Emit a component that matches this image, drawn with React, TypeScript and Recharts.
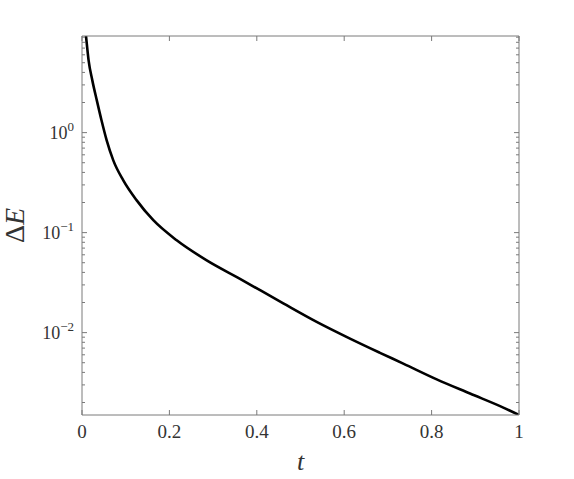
import React from "react";
import { LineChart, Line, XAxis, YAxis } from "recharts";

const tValues = [
  0.0035, 0.00915, 0.0151, 0.0236, 0.0339, 0.0446, 0.0565, 0.0716, 0.0945, 0.1252,
  0.1632, 0.2167, 0.2854, 0.3616, 0.4606, 0.537, 0.6133, 0.6819, 0.7352, 0.8117,
  0.8879, 0.9641, 1.0,
];
const deltaE = [
  16, 9.25, 5.28, 3.33, 2.1, 1.33, 0.837, 0.528, 0.333, 0.21,
  0.133, 0.0838, 0.0528, 0.0345, 0.0196, 0.0128, 0.00871, 0.00628, 0.0049, 0.00341,
  0.00246, 0.00178, 0.0015,
];
const xTicks = [0, 0.2, 0.4, 0.6, 0.8, 1];
const yMajorTicks = [0.01, 0.1, 1];
const yMinorTicks = [
  0.002, 0.003, 0.004, 0.005, 0.006, 0.007, 0.008, 0.009,
  0.02, 0.03, 0.04, 0.05, 0.06, 0.07, 0.08, 0.09,
  0.2, 0.3, 0.4, 0.5, 0.6, 0.7, 0.8, 0.9,
  2, 3, 4, 5, 6, 7, 8, 9,
];
const yTicks = [...yMajorTicks, ...yMinorTicks].sort((a, b) => a - b);
const yDomain = [0.0015, 9.25];
const xDomain = [0, 1];

const data = tValues.map((t, i) => ({ t, dE: deltaE[i] }));

const FONT = "'Liberation Serif', 'DejaVu Serif', serif";
const FRAME = "#7a7a7a";
const TEXT = "#333333";

const isMajor = (v: number) => yMajorTicks.some((m) => Math.abs(m - v) < 1e-9);

const LeftTick = (props: any) => {
  const { x, y, payload } = props;
  const v = payload.value;
  const major = isMajor(v);
  const exp = Math.round(Math.log10(v));
  const expStr = exp < 0 ? "\u2212" + Math.abs(exp) : String(exp);
  return (
    <g>
      <line x1={x} y1={y} x2={x + (major ? 5 : 3)} y2={y} stroke={FRAME} strokeWidth={1} />
      {major && (
        <text x={x - 8} y={y + 6} textAnchor="end" fontFamily={FONT} fontSize={18} fill={TEXT}>
          10
          <tspan dy={-8} fontSize={13}>{expStr}</tspan>
        </text>
      )}
    </g>
  );
};

const RightTick = (props: any) => {
  const { x, y, payload } = props;
  const major = isMajor(payload.value);
  return <line x1={x} y1={y} x2={x - (major ? 5 : 3)} y2={y} stroke={FRAME} strokeWidth={1} />;
};

const BottomTick = (props: any) => {
  const { x, y, payload } = props;
  return (
    <g>
      <line x1={x} y1={y} x2={x} y2={y - 5} stroke={FRAME} strokeWidth={1} />
      <text x={x} y={y + 23} textAnchor="middle" fontFamily={FONT} fontSize={19} fill={TEXT}>
        {String(payload.value)}
      </text>
    </g>
  );
};

const TopTick = (props: any) => {
  const { x, y } = props;
  return <line x1={x} y1={y} x2={x} y2={y + 5} stroke={FRAME} strokeWidth={1} />;
};

const XLabel = (props: any) => {
  const vb = props.viewBox || {};
  const cx = vb.x + vb.width / 2;
  return (
    <text x={cx} y={vb.y + 55} textAnchor="middle" fontFamily={FONT} fontStyle="italic" fontSize={26} fill={TEXT}>
      t
    </text>
  );
};

const YLabel = (props: any) => {
  const vb = props.viewBox || {};
  const cx = vb.x + vb.width - 68;
  const cy = vb.y + vb.height / 2;
  return (
    <text
      x={cx}
      y={cy}
      transform={`rotate(-90, ${cx}, ${cy})`}
      textAnchor="middle"
      dominantBaseline="central"
      fontFamily={FONT}
      fontSize={28}
      fill={TEXT}
    >
      Δ<tspan fontStyle="italic">E</tspan>
    </text>
  );
};

export default function App() {
  return (
    <div style={{ position: "absolute", left: 0, top: 0, width: 574, height: 479, background: "#fff" }}>
      <LineChart width={574} height={479} data={data} margin={{ top: 0, right: 0, bottom: 0, left: 0 }}>
        <XAxis
          dataKey="t"
          type="number"
          domain={xDomain}
          ticks={xTicks}
          interval={0}
          height={64}
          tickSize={0}
          tickMargin={0}
          tickLine={false}
          axisLine={{ stroke: FRAME, strokeWidth: 1 }}
          tick={<BottomTick />}
          allowDataOverflow
          label={<XLabel />}
        />
        <XAxis
          xAxisId="top"
          dataKey="t"
          orientation="top"
          type="number"
          domain={xDomain}
          ticks={xTicks}
          interval={0}
          height={36}
          tickSize={0}
          tickMargin={0}
          tickLine={false}
          axisLine={{ stroke: FRAME, strokeWidth: 1 }}
          tick={<TopTick />}
          allowDataOverflow
        />
        <YAxis
          scale="log"
          type="number"
          domain={yDomain}
          ticks={yTicks}
          interval={0}
          width={82}
          tickSize={0}
          tickMargin={0}
          tickLine={false}
          axisLine={{ stroke: FRAME, strokeWidth: 1 }}
          tick={<LeftTick />}
          allowDataOverflow
          label={<YLabel />}
        />
        <YAxis
          yAxisId="right"
          dataKey="dE"
          orientation="right"
          scale="log"
          type="number"
          domain={yDomain}
          ticks={yTicks}
          interval={0}
          width={55}
          tickSize={0}
          tickMargin={0}
          tickLine={false}
          axisLine={{ stroke: FRAME, strokeWidth: 1 }}
          tick={<RightTick />}
          allowDataOverflow
        />
        <Line
          dataKey="dE"
          type="monotone"
          stroke="#000"
          strokeWidth={2.6}
          dot={false}
          isAnimationActive={false}
        />
      </LineChart>
    </div>
  );
}
